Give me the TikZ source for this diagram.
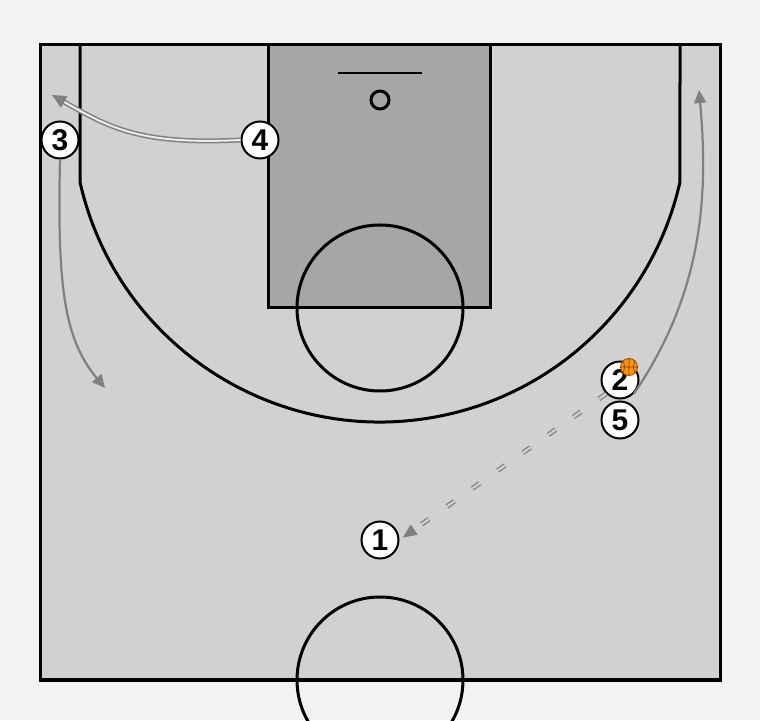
\documentclass[tikz,border=0pt]{standalone}
\usepackage{fontspec}
\setmainfont{Liberation Sans}
\usetikzlibrary{arrows.meta}

\begin{document}
\begin{tikzpicture}[x=1pt,y=1pt,
        court/.style={line width=3pt, draw=black},
        player/.style={circle, draw=black, line width=2pt, fill=white,
            minimum size=37pt, inner sep=0pt,
            font=\fontsize{30}{30}\selectfont\bfseries},
        cutline/.style={draw=black!50, line width=2.2pt,
            -{Triangle[length=13pt,width=12pt]}},
        screenline/.style={draw=black!50, double=black!8, line width=1.5pt,
            double distance=2pt, -{Triangle[length=14pt,width=13pt]}},
        passline/.style={draw=black!50, double=black!18, line width=1.3pt,
            double distance=2.2pt, dash pattern=on 9pt off 22pt,
            -{Triangle[length=14pt,width=12pt]}}]
        \clip (0,0) rectangle (760,720);
        \fill [black!5] (0,0) rectangle (760,720);
        \draw [court, fill=black!18] (40,40) rectangle (720,675);
        \draw [court, fill=black!35] (268,412) rectangle (490,675);
        \draw [court] (380,412) circle (83);
        \draw [court] (80,675) -- (80,538) arc (192.68:347.32:307.5) -- (680,675);
        \draw [court] (380,40) circle (83);
        \draw [line width=2pt] (338,647) -- (422,647);
        \draw [court] (380,620) circle (9);

        \node [player] (p3) at (60,580) {3};
        \node [player] (p4) at (260,580) {4};
        \node [player] (p2) at (620,340) {2};
        \node [player] (p5) at (620,300) {5};
        \node [player] (p1) at (380,180) {1};
        \coordinate (c3) at (105,332);
        \coordinate (c4) at (52,625);
        \coordinate (c2) at (699,630);

        \draw [screenline] (p4.west) .. controls (140,575) and (110,592) .. (c4);
        \draw [cutline] (p3.south) .. controls (57,430) and (65,380) .. (c3);
        \draw [cutline] (p2.south east) .. controls (705,430) and (708,530) .. (c2);
        \draw [passline, shorten >=4pt] (p2.south west) -- (p1.east);

        \node [circle, fill=orange!85!yellow, draw=orange!60!black, line width=0.8pt,
            minimum size=17pt, inner sep=0pt] (ball) at (629,353) {};
        \draw [orange!50!black, line width=0.7pt] (ball.north) -- (ball.south)
            (ball.west) -- (ball.east)
            (ball.north west) to [bend left=30] (ball.south west)
            (ball.north east) to [bend right=30] (ball.south east);
    \end{tikzpicture}
\end{document}
